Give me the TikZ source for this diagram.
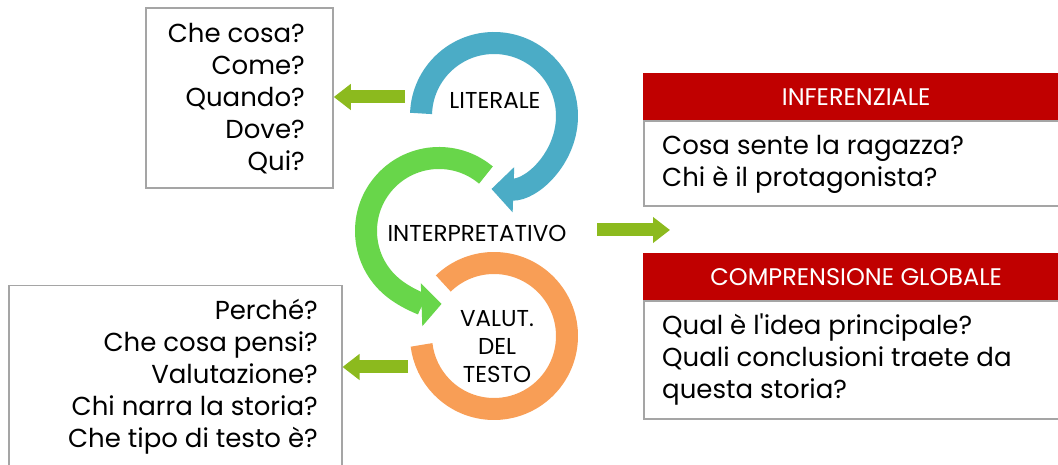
\documentclass[tikz,border=0pt]{standalone}
\usepackage{fontspec}
\setmainfont{Poppins}
\usetikzlibrary{arrows.meta}

\definecolor{ringblue}{RGB}{75,172,198}
\definecolor{ringgreen}{RGB}{104,214,74}
\definecolor{ringorange}{RGB}{248,158,86}
\definecolor{arrowgreen}{RGB}{140,186,30}
\definecolor{headred}{RGB}{192,0,0}
\definecolor{boxgray}{RGB}{165,165,165}

\begin{document}
\begin{tikzpicture}[x=1pt,y=1pt]

\tikzstyle{qbox}=[draw=boxgray, line width=1.5pt]
\tikzstyle{qtext}=[font=\fontsize{26}{32}\selectfont, inner sep=0pt]
\tikzstyle{head}=[fill=headred, text=white, inner sep=0pt,
  font=\fontsize{24}{28}\selectfont]
\tikzstyle{ring}=[line width=22pt]
\tikzstyle{ringlabel}=[font=\fontsize{23}{28}\selectfont, inner sep=0pt, align=center]
\tikzstyle{pointer}=[line width=13pt, draw=arrowgreen,
  -{Triangle[width=25pt,length=17pt]}]

\useasboundingbox (0,0) rectangle (1058,465);

%% Question boxes on the left
\node [qbox, minimum width=187pt, minimum height=180pt] (litbox) at (239.5,367) {};
\node [qtext, anchor=east, align=right] (littext) at (305,366)
  {Che cosa?\\Come?\\Quando?\\Dove?\\Qui?};

\node [qbox, anchor=north west, minimum width=333pt, minimum height=200pt]
  (valbox) at (8,180) {};
\node [qtext, anchor=east, align=right] (valtext) at (318,88)
  {Perché?\\Che cosa pensi?\\Valutazione?\\Chi narra la storia?\\Che tipo di testo è?};

%% Boxes on the right
\node [head, anchor=north west, minimum width=426pt, minimum height=47pt]
  (infhead) at (643,392) {INFERENZIALE};
\node [qbox, anchor=north west, minimum width=426pt, minimum height=85pt]
  (infbox) at (infhead.south west) {};
\node [qtext, anchor=west, align=left] (inftext) at (662,300.5)
  {Cosa sente la ragazza?\\Chi è il protagonista?};

\node [head, anchor=north west, minimum width=426pt, minimum height=47pt]
  (globhead) at (643,212) {COMPRENSIONE GLOBALE};
\node [qbox, anchor=north west, minimum width=426pt, minimum height=118pt]
  (globbox) at (globhead.south west) {};
\node [qtext, anchor=west, align=left] (globtext) at (662,105)
  {Qual è l\textquotesingle idea principale?\\Quali conclusioni traete da\\questa storia?};

%% The three rings
\coordinate (cblue) at (494,349);
\coordinate (cgreen) at (439,234);
\coordinate (corange) at (494,129);

\draw[ring, ringorange] (corange) ++(134:73)
  arc[start angle=134, end angle=-173, radius=73];
\draw[ring, line width=26pt, white, -{Triangle[width=50pt,length=24pt]}]
  (cgreen) ++(50:73) arc[start angle=50, end angle=272, radius=73];
\draw[ring, ringgreen, -{Triangle[width=42pt,length=20pt]}]
  (cgreen) ++(50:73) arc[start angle=50, end angle=272, radius=73];
\draw[ring, line width=26pt, white, -{Triangle[width=52pt,length=25pt]}]
  (cblue) ++(178:73) arc[start angle=178, end angle=-92, radius=73];
\draw[ring, ringblue, -{Triangle[width=44pt,length=22pt]}]
  (cblue) ++(178:73) arc[start angle=178, end angle=-92, radius=73];

\node [ringlabel] (lit) at (495,365) {LITERALE};
\node [ringlabel] (interp) at (477,232) {INTERPRETATIVO};
\node [ringlabel] (valut) at (497,118) {VALUT.\\DEL\\TESTO};

%% Green pointers
\coordinate (litout) at (405,368);
\coordinate (valout) at (408,98);
\coordinate (intout) at (597,235);
\coordinate (intin) at (670,235);

\draw[pointer] (litout) -- (litbox.east |- litout);
\draw[pointer] (valout) -- (valbox.east |- valout);
\draw[pointer] (intout) -- (intin);

\end{tikzpicture}
\end{document}
